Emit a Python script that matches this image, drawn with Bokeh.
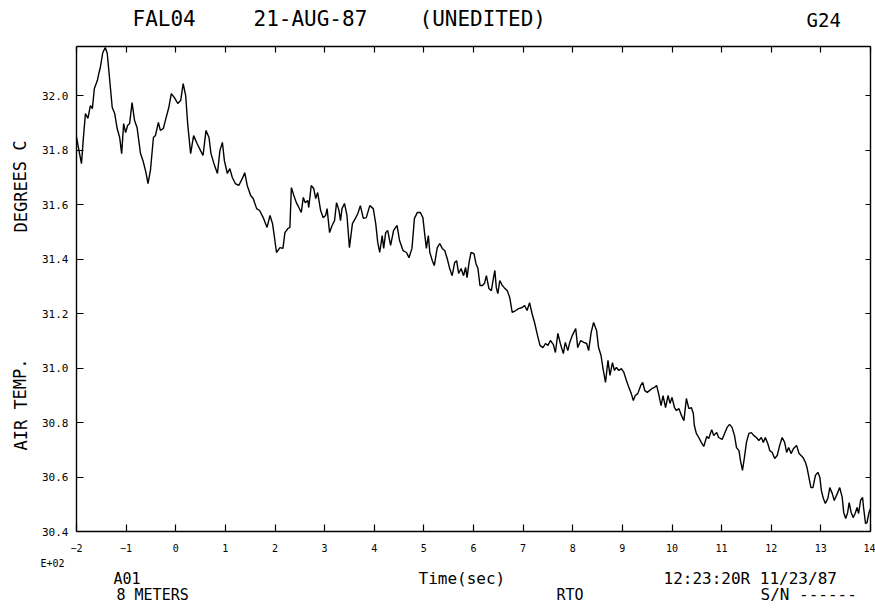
from bokeh.plotting import figure
from bokeh.models import Range1d, LinearAxis, FixedTicker, Label, NumeralTickFormatter, CustomJSTickFormatter
from bokeh.embed import file_html
from bokeh.resources import INLINE

# ---------------- data (time in units of E+02 sec, air temperature in deg C) -------------
time_e02 = [
    -2.00, -1.95, -1.90, -1.86, -1.82, -1.77, -1.72, -1.68, -1.64, -1.58, -1.55, -1.52, -1.47,
    -1.42, -1.38, -1.33, -1.28, -1.23, -1.18, -1.13, -1.09, -1.05, -1.01, -0.97, -0.93, -0.88,
    -0.83, -0.78, -0.71, -0.66, -0.60, -0.56, -0.51, -0.45, -0.41, -0.35, -0.31, -0.25, -0.21,
    -0.14, -0.09, -0.03, 0.04, 0.10, 0.15, 0.20, 0.24, 0.30, 0.36, 0.43, 0.50, 0.55, 0.61, 0.67,
    0.71, 0.77, 0.84, 0.89, 0.94, 0.98, 1.04, 1.09, 1.14, 1.20, 1.27,
    1.34, 1.39, 1.44, 1.51, 1.56, 1.63, 1.69, 1.77, 1.84, 1.90, 1.95, 1.99, 2.03, 2.10, 2.16,
    2.20, 2.26, 2.30, 2.33, 2.38, 2.43, 2.48, 2.53, 2.57, 2.61, 2.66, 2.68, 2.73, 2.78, 2.82,
    2.86, 2.92, 2.97, 3.02, 3.05, 3.10, 3.15, 3.20, 3.24, 3.29, 3.32, 3.35, 3.40, 3.45, 3.50,
    3.56, 3.62, 3.67, 3.72, 3.78, 3.84, 3.91, 3.98, 4.03, 4.07, 4.11, 4.16, 4.19, 4.23, 4.27, 4.33,
    4.39, 4.46, 4.51, 4.58, 4.65, 4.70, 4.76, 4.81, 4.87, 4.93, 4.98, 5.02, 5.05, 5.09, 5.12,
    5.17, 5.21, 5.27, 5.32, 5.37, 5.42, 5.47, 5.52, 5.57, 5.62, 5.66, 5.70, 5.75, 5.80, 5.84,
    5.87, 5.91, 5.95, 6.01, 6.05, 6.09, 6.13, 6.18, 6.22, 6.26, 6.31, 6.36, 6.40, 6.43, 6.46,
    6.49, 6.53, 6.58, 6.62, 6.68, 6.73, 6.78, 6.85, 6.91, 6.98, 7.03, 7.08, 7.13, 7.18, 7.23,
    7.28, 7.34, 7.40, 7.45, 7.50,
    7.55, 7.61, 7.65, 7.70, 7.75, 7.81, 7.85, 7.90, 7.94, 7.99, 8.06, 8.10, 8.16, 8.22, 8.28,
    8.32, 8.37, 8.42, 8.48, 8.52, 8.57, 8.61, 8.66, 8.71, 8.75, 8.80, 8.84, 8.88, 8.93, 8.98,
    9.03, 9.08, 9.13, 9.18, 9.22, 9.26, 9.31, 9.37, 9.41, 9.45, 9.50, 9.55, 9.60, 9.65, 9.69,
    9.73, 9.78, 9.82, 9.87, 9.92, 9.96, 10.00, 10.05, 10.09, 10.14, 10.19, 10.24, 10.29, 10.34,
    10.39, 10.43, 10.45, 10.49, 10.54, 10.59, 10.64, 10.70,
    10.74, 10.80, 10.84, 10.90, 10.94, 11.01, 11.06, 11.11, 11.16, 11.21, 11.26, 11.30, 11.35,
    11.38, 11.42, 11.46, 11.50, 11.55, 11.60, 11.65, 11.70, 11.75, 11.80, 11.84, 11.88, 11.93,
    11.97, 12.02, 12.07, 12.12, 12.17, 12.22, 12.27, 12.31, 12.35, 12.40, 12.45, 12.51, 12.56,
    12.60, 12.64, 12.69, 12.72, 12.76, 12.80, 12.84, 12.89, 12.94, 12.98, 13.01, 13.05, 13.09,
    13.14, 13.18, 13.23, 13.27, 13.33, 13.38, 13.43, 13.46, 13.50, 13.54, 13.57, 13.61, 13.65,
    13.69, 13.73, 13.76, 13.80, 13.84, 13.86, 13.90, 13.93, 13.97, 14.00,
]

air_temp_c = [
    31.847, 31.798, 31.750, 31.847, 31.934, 31.916, 31.963, 31.952, 32.026, 32.055, 32.081, 32.103,
    32.158, 32.176, 32.154, 32.055, 31.956, 31.934, 31.879, 31.846, 31.787, 31.897, 31.864, 31.890,
    31.897, 31.974, 31.908, 31.883, 31.787, 31.761, 31.717, 31.677, 31.725, 31.846, 31.853, 31.901,
    31.872, 31.879, 31.908, 31.956, 32.007, 31.993, 31.971, 31.982, 32.044, 32.000, 31.897, 31.787,
    31.853, 31.824, 31.798, 31.780, 31.872, 31.846, 31.787, 31.750, 31.714, 31.798, 31.828, 31.761,
    31.714, 31.732, 31.699, 31.677, 31.670,
    31.695, 31.717, 31.670, 31.633, 31.622, 31.585, 31.578, 31.549, 31.516, 31.560, 31.530, 31.479,
    31.424, 31.442, 31.439, 31.497, 31.512, 31.516, 31.662, 31.633, 31.607, 31.589, 31.571, 31.626,
    31.607, 31.615, 31.589, 31.670, 31.659, 31.622, 31.644, 31.578, 31.552, 31.560, 31.585, 31.497,
    31.523, 31.541, 31.607, 31.578, 31.541, 31.585, 31.604, 31.560, 31.442, 31.530, 31.549, 31.567,
    31.596, 31.549, 31.552, 31.596, 31.585, 31.530, 31.461, 31.424, 31.486, 31.439, 31.497, 31.505,
    31.450,
    31.505, 31.523, 31.468, 31.431, 31.424, 31.405, 31.439, 31.549, 31.571, 31.571, 31.552, 31.486,
    31.439, 31.486, 31.424, 31.394, 31.376, 31.442, 31.457, 31.439, 31.431, 31.402, 31.365, 31.339,
    31.387, 31.394, 31.347, 31.365, 31.339, 31.369, 31.332, 31.387, 31.424, 31.420, 31.383, 31.365,
    31.303, 31.303, 31.310, 31.339, 31.292, 31.284, 31.328, 31.358, 31.295, 31.273, 31.321, 31.303,
    31.295, 31.284, 31.259, 31.204, 31.211, 31.218, 31.222, 31.229, 31.211, 31.240, 31.200, 31.167,
    31.127, 31.083, 31.075, 31.090, 31.083,
    31.101, 31.086, 31.057, 31.127, 31.090, 31.053, 31.094, 31.064, 31.094, 31.119, 31.145, 31.075,
    31.101, 31.094, 31.090, 31.064, 31.130, 31.167, 31.138, 31.075, 31.046, 30.998, 30.947, 31.028,
    30.973, 31.020, 30.991, 31.002, 30.991, 30.998, 30.984, 30.955, 30.929, 30.906, 30.881, 30.899,
    30.906, 30.936, 30.947, 30.918, 30.910, 30.918, 30.925, 30.929, 30.936, 30.906, 30.862, 30.899,
    30.855, 30.899, 30.870, 30.892, 30.855, 30.844, 30.851, 30.826, 30.807, 30.888, 30.851, 30.855,
    30.833, 30.789, 30.760, 30.745, 30.727, 30.712, 30.749,
    30.741, 30.774, 30.752, 30.763, 30.745, 30.738, 30.760, 30.782, 30.793, 30.782, 30.752, 30.708,
    30.697, 30.660, 30.624, 30.672, 30.727, 30.760, 30.763, 30.752, 30.745, 30.734, 30.745, 30.727,
    30.745, 30.723, 30.697, 30.690, 30.668, 30.679, 30.716, 30.745, 30.727, 30.690, 30.708, 30.686,
    30.705, 30.716, 30.686, 30.679, 30.672, 30.653, 30.635, 30.598, 30.561, 30.561, 30.606, 30.617,
    30.598, 30.550, 30.521, 30.503, 30.521, 30.561, 30.539, 30.514, 30.539, 30.561, 30.525, 30.470,
    30.448, 30.470, 30.506, 30.470, 30.451, 30.466, 30.488, 30.466, 30.514, 30.525, 30.488, 30.429,
    30.433, 30.470, 30.484,
]

x_ticks = list(range(-2, 15))
y_ticks = [30.4, 30.6, 30.8, 31.0, 31.2, 31.4, 31.6, 31.8, 32.0]
x_lo, x_hi = -2.0, 14.0          # plotted time span
y_lo, y_hi = 30.4, 32.18         # plotted temperature span

title_parts = ["FAL04", "21-AUG-87", "(UNEDITED)"]
plot_code = "G24"
y_label_lower = "AIR TEMP."
y_label_upper = "DEGREES C"
x_label = "Time(sec)"
x_scale_note = "E+02"
channel = "A01"
height_note = "8 METERS"
sensor = "RTO"
stamp = "12:23:20R 11/23/87"
serial = "S/N ------"

# ---------------- layout (pixels) ----------------
W, H = 875, 609
BOX_L, BOX_R, BOX_T, BOX_B = 76, 870, 46, 531
FONT = "DejaVu Sans Mono"

ppx = (BOX_R - BOX_L) / (x_hi - x_lo)
ppy = (BOX_B - BOX_T) / (y_hi - y_lo)
X_START, X_END = x_lo - BOX_L / ppx, x_hi + (W - BOX_R) / ppx
Y_START, Y_END = y_lo - (H - BOX_B) / ppy, y_hi + BOX_T / ppy

p = figure(width=W, height=H, output_backend="svg", toolbar_location=None,
           x_range=Range1d(X_START, X_END), y_range=Range1d(Y_START, Y_END),
           x_axis_location=None, y_axis_location=None,
           min_border_left=0, min_border_right=0, min_border_top=0, min_border_bottom=0)
p.grid.visible = False
p.outline_line_color = None
p.background_fill_color = "white"
p.border_fill_color = "white"

blank = CustomJSTickFormatter(code="return ''")


def style_axis(ax, labels=True, size="10px"):
    ax.axis_line_color = "black"
    ax.axis_line_width = 1.4
    ax.major_tick_in = 7
    ax.major_tick_out = 0
    ax.minor_tick_line_color = None
    ax.major_tick_line_color = "black"
    ax.major_tick_line_width = 1.2
    if labels:
        ax.major_label_text_font = FONT
        ax.major_label_text_font_size = size
        ax.major_label_text_color = "black"
    else:
        ax.formatter = blank
        ax.major_label_standoff = 0
        ax.major_label_text_font_size = "0px"


left = LinearAxis(ticker=FixedTicker(ticks=y_ticks), formatter=NumeralTickFormatter(format="0.0"),
                  fixed_location=x_lo, bounds=(y_lo, y_hi))
style_axis(left, size="11px")
left.major_label_standoff = 8
p.add_layout(left, "left")

right = LinearAxis(ticker=FixedTicker(ticks=y_ticks), fixed_location=x_hi, bounds=(y_lo, y_hi))
style_axis(right, labels=False)
right.major_tick_in = 5
p.add_layout(right, "right")

bottom = LinearAxis(ticker=FixedTicker(ticks=x_ticks), fixed_location=y_lo, bounds=(x_lo, x_hi))
style_axis(bottom, size="10px")
bottom.major_label_standoff = 12
p.add_layout(bottom, "below")

top = LinearAxis(ticker=FixedTicker(ticks=x_ticks), fixed_location=y_hi, bounds=(x_lo, x_hi))
style_axis(top, labels=False)
top.major_tick_in = 6
p.add_layout(top, "above")

p.line(time_e02, air_temp_c, line_color="black", line_width=1.4)


# canvas-pixel -> data position helpers, used only to place the free texts
def dx(px):
    return X_START + px * (X_END - X_START) / W


def dy(py):
    return Y_END - py * (Y_END - Y_START) / H


def txt(text, px, py, size, align="left", angle=0.0):
    p.add_layout(Label(x=dx(px), y=dy(py), text=text, text_font=FONT,
                       text_font_size=f"{size}px", text_color="black",
                       text_align=align, text_baseline="middle", angle=angle))


txt(title_parts[0], 132, 18, 21)
txt(title_parts[1], 253, 18, 21)
txt(title_parts[2], 419, 18, 21)
txt(plot_code, 806, 19, 19)

txt(y_label_upper, 20, 186, 17, align="center", angle=1.5708)
txt(y_label_lower, 20, 404, 17, align="center", angle=1.5708)

txt(x_scale_note, 52, 563, 10, align="center")
txt(channel, 113, 578, 15)
txt(height_note, 116, 594, 15)
txt(x_label, 418, 578, 16)
txt(sensor, 556, 594, 15)
txt(stamp, 663, 578, 16)
txt(serial, 760, 594, 16)

open("out.html", "w").write(file_html(p, INLINE))
